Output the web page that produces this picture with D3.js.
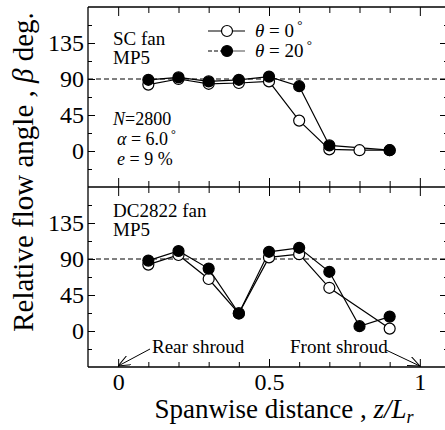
<!DOCTYPE html>
<meta charset="utf-8">
<html>
<head>
    <title>flow angle</title>
    <script src="https://d3js.org/d3.v7.min.js"></script>
    <style>
        body { margin: 0; background: white; }
        text { font-family: "Liberation Serif", "Times New Roman", serif; fill: black; }
    </style>
</head>
<body>
    <div id="chart"></div>
    <script>
        // data
        var zPos = [0.1, 0.2, 0.3, 0.4, 0.5, 0.6, 0.7, 0.8, 0.9];
        var scOpen   = [83, 90, 84, 85, 87, 38, 2, 1, 1];
        var scFilled = [89, 92, 87, 89, 93, 81, 7, null, 1];
        var dcOpen   = [83, 95, 65, 22, 92, 96, 54, null, 3];
        var dcFilled = [88, 100, 78, 22, 99, 104, 74, 6, 18];
        var yMajor = [0, 45, 90, 135];
        var yMinor = [-22.5, 22.5, 67.5, 112.5, 157.5];
        var xMinor = [0.1, 0.2, 0.3, 0.4, 0.6, 0.7, 0.8, 0.9];
        var xMajor = [0, 0.5, 1];

        var W = 445, H = 430;
        var svg = d3.select("#chart").append("svg")
            .attr("width", W)
            .attr("height", H);

        svg.append("defs").append("marker")
            .attr("id", "arrow")
            .attr("viewBox", "0 0 12 10")
            .attr("refX", 12).attr("refY", 5)
            .attr("markerWidth", 12).attr("markerHeight", 10)
            .attr("markerUnits", "userSpaceOnUse")
            .attr("orient", "auto")
            .append("path")
            .attr("d", "M0,0 L12,5 L0,10")
            .attr("fill", "none")
            .attr("stroke", "black")
            .attr("stroke-width", 1);

        var left = 88, right = 450;
        var x = d3.scaleLinear().domain([-0.1, 1.1]).range([left, right]);
        var yTop = d3.scaleLinear().domain([-45, 180]).range([187, 7]);
        var yBot = d3.scaleLinear().domain([-45, 180]).range([367, 187]);

        function drawPanel(y, openVals, filledVals) {
            var g = svg.append("g");

            // dashed 90 deg line
            g.append("line")
                .attr("x1", left).attr("x2", right)
                .attr("y1", y(90)).attr("y2", y(90))
                .attr("stroke", "black")
                .attr("stroke-width", 1)
                .attr("stroke-dasharray", "5,3");

            // left axis, ticks inside
            g.append("g")
                .attr("transform", "translate(" + left + ",0)")
                .call(d3.axisLeft(y).tickValues(yMajor).tickSize(-7).tickPadding(4))
                .attr("font-size", "24px")
                .attr("font-family", "Liberation Serif");
            g.append("g")
                .attr("transform", "translate(" + left + ",0)")
                .call(d3.axisLeft(y).tickValues(yMinor).tickSize(-4).tickFormat(""));
            // right axis
            g.append("g")
                .attr("transform", "translate(" + right + ",0)")
                .call(d3.axisRight(y).tickValues(yMajor).tickSize(-10).tickFormat(""));
            g.append("g")
                .attr("transform", "translate(" + right + ",0)")
                .call(d3.axisRight(y).tickValues(yMinor).tickSize(-6).tickFormat(""));

            var series = [
                {vals: openVals, fill: "white"},
                {vals: filledVals, fill: "black"}
            ];
            var line = d3.line()
                .x(function(d){ return x(d.z); })
                .y(function(d){ return y(d.v); });

            series.forEach(function(s){
                var pts = zPos.map(function(z, i){ return {z: z, v: s.vals[i]}; })
                    .filter(function(d){ return d.v !== null; });
                s.pts = pts;
                g.append("path")
                    .datum(pts)
                    .attr("d", line)
                    .attr("fill", "none")
                    .attr("stroke", "black")
                    .attr("stroke-width", 1.2);
            });
            series.forEach(function(s){
                g.selectAll(null)
                    .data(s.pts).enter()
                    .append("circle")
                    .attr("cx", function(d){ return x(d.z); })
                    .attr("cy", function(d){ return y(d.v); })
                    .attr("r", 5.5)
                    .attr("fill", s.fill)
                    .attr("stroke", "black")
                    .attr("stroke-width", 1.2);
            });
            return g;
        }

        drawPanel(yTop, scOpen, scFilled);
        drawPanel(yBot, dcOpen, dcFilled);

        // frame lines and x ticks
        svg.selectAll(".domain").remove();
        [7, 187, 367].forEach(function(yy){
            svg.append("line")
                .attr("x1", left).attr("x2", right)
                .attr("y1", yy).attr("y2", yy)
                .attr("stroke", "black").attr("stroke-width", 1.3);
        });
        svg.append("line")
            .attr("x1", left).attr("x2", left)
            .attr("y1", 7).attr("y2", 367)
            .attr("stroke", "black").attr("stroke-width", 1.3);

        // top edge ticks
        svg.append("g").attr("transform", "translate(0,7)")
            .call(d3.axisTop(x).tickValues(xMinor).tickSize(-6).tickFormat(""));
        svg.append("g").attr("transform", "translate(0,7)")
            .call(d3.axisTop(x).tickValues(xMajor).tickSize(-9).tickFormat(""));
        // divider ticks, both sides
        svg.append("g").attr("transform", "translate(0,187)")
            .call(d3.axisTop(x).tickValues(xMinor).tickSize(6).tickFormat(""));
        svg.append("g").attr("transform", "translate(0,187)")
            .call(d3.axisBottom(x).tickValues(xMinor).tickSize(6).tickFormat(""));
        svg.append("g").attr("transform", "translate(0,187)")
            .call(d3.axisTop(x).tickValues(xMajor).tickSize(9).tickFormat(""));
        svg.append("g").attr("transform", "translate(0,187)")
            .call(d3.axisBottom(x).tickValues(xMajor).tickSize(9).tickFormat(""));
        // bottom ticks and labels
        svg.append("g").attr("transform", "translate(0,367)")
            .call(d3.axisBottom(x).tickValues(xMinor).tickSize(-5).tickFormat(""));
        svg.append("g").attr("transform", "translate(0,367)")
            .call(d3.axisBottom(x).tickValues(xMajor).tickSize(-8).tickPadding(6)
                .tickFormat(function(d){ return d === 0.5 ? "0.5" : d3.format("d")(d); }))
            .attr("font-size", "24px")
            .attr("font-family", "Liberation Serif");
        svg.selectAll(".domain").remove();

        // panel labels
        function label(xx, yy, txt, size) {
            return svg.append("text").attr("x", xx).attr("y", yy)
                .attr("font-size", (size || 19) + "px").text(txt);
        }
        label(113, 45, "SC fan", 19);
        label(113, 64, "MP5", 19);
        label(113, 217, "DC2822 fan", 19);
        label(113, 236, "MP5", 19);

        var t = svg.append("text").attr("x", 113).attr("y", 125).attr("font-size", "18px");
        t.append("tspan").attr("font-style", "italic").text("N");
        t.append("tspan").text("=2800");
        t = svg.append("text").attr("x", 117).attr("y", 145).attr("font-size", "18px");
        t.append("tspan").attr("font-style", "italic").text("α");
        t.append("tspan").text(" = 6.0");
        t.append("tspan").attr("dy", -7).attr("font-size", "12px").text(" °");
        t = svg.append("text").attr("x", 117).attr("y", 165).attr("font-size", "18px");
        t.append("tspan").attr("font-style", "italic").text("e");
        t.append("tspan").text("  = 9 %");

        // legend
        var legend = [{lbl: "0", fill: "white", y: 31}, {lbl: "20", fill: "black", y: 51}];
        legend.forEach(function(d){
            if (d.fill === "white") {
                svg.append("line")
                    .attr("x1", 208).attr("x2", 245)
                    .attr("y1", d.y).attr("y2", d.y)
                    .attr("stroke", "black").attr("stroke-width", 1.2);
            } else {
                svg.append("line")
                    .attr("x1", 208).attr("x2", 227)
                    .attr("y1", d.y).attr("y2", d.y)
                    .attr("stroke", "black").attr("stroke-width", 1.2)
                    .attr("stroke-dasharray", "4,2");
                svg.append("line")
                    .attr("x1", 227).attr("x2", 245)
                    .attr("y1", d.y).attr("y2", d.y)
                    .attr("stroke", "#888").attr("stroke-width", 1.5);
            }
            svg.append("circle")
                .attr("cx", 227).attr("cy", d.y).attr("r", 5.5)
                .attr("fill", d.fill).attr("stroke", "black").attr("stroke-width", 1.2);
            var lt = svg.append("text").attr("x", 255).attr("y", d.y + 6).attr("font-size", "19px");
            lt.append("tspan").attr("font-style", "italic").text("θ");
            lt.append("tspan").text(" = " + d.lbl);
            lt.append("tspan").attr("dy", -8).attr("font-size", "13px").text(" °");
        });

        // shroud annotations
        label(152, 353, "Rear shroud");
        label(290, 353, "Front shroud");
        svg.append("line")
            .attr("x1", 150).attr("y1", 349).attr("x2", x(0)).attr("y2", 366)
            .attr("stroke", "black").attr("stroke-width", 1)
            .attr("marker-end", "url(#arrow)");
        svg.append("line")
            .attr("x1", 386).attr("y1", 350).attr("x2", x(1)).attr("y2", 366)
            .attr("stroke", "black").attr("stroke-width", 1)
            .attr("marker-end", "url(#arrow)");

        // axis titles
        var xt = svg.append("text").attr("x", 284).attr("y", 418)
            .attr("text-anchor", "middle").attr("font-size", "27px");
        xt.append("tspan").text("Spanwise distance , ");
        xt.append("tspan").attr("font-style", "italic").text("z/L");
        xt.append("tspan").attr("font-style", "italic").attr("font-size", "18px").attr("dy", 5).text("r");

        var yt = svg.append("text")
            .attr("transform", "translate(33,172) rotate(-90)")
            .attr("text-anchor", "middle").attr("font-size", "29px");
        yt.append("tspan").text("Relative flow angle , ");
        yt.append("tspan").attr("font-style", "italic").text("β");
        yt.append("tspan").text(" deg.");
    </script>
</body>
</html>
